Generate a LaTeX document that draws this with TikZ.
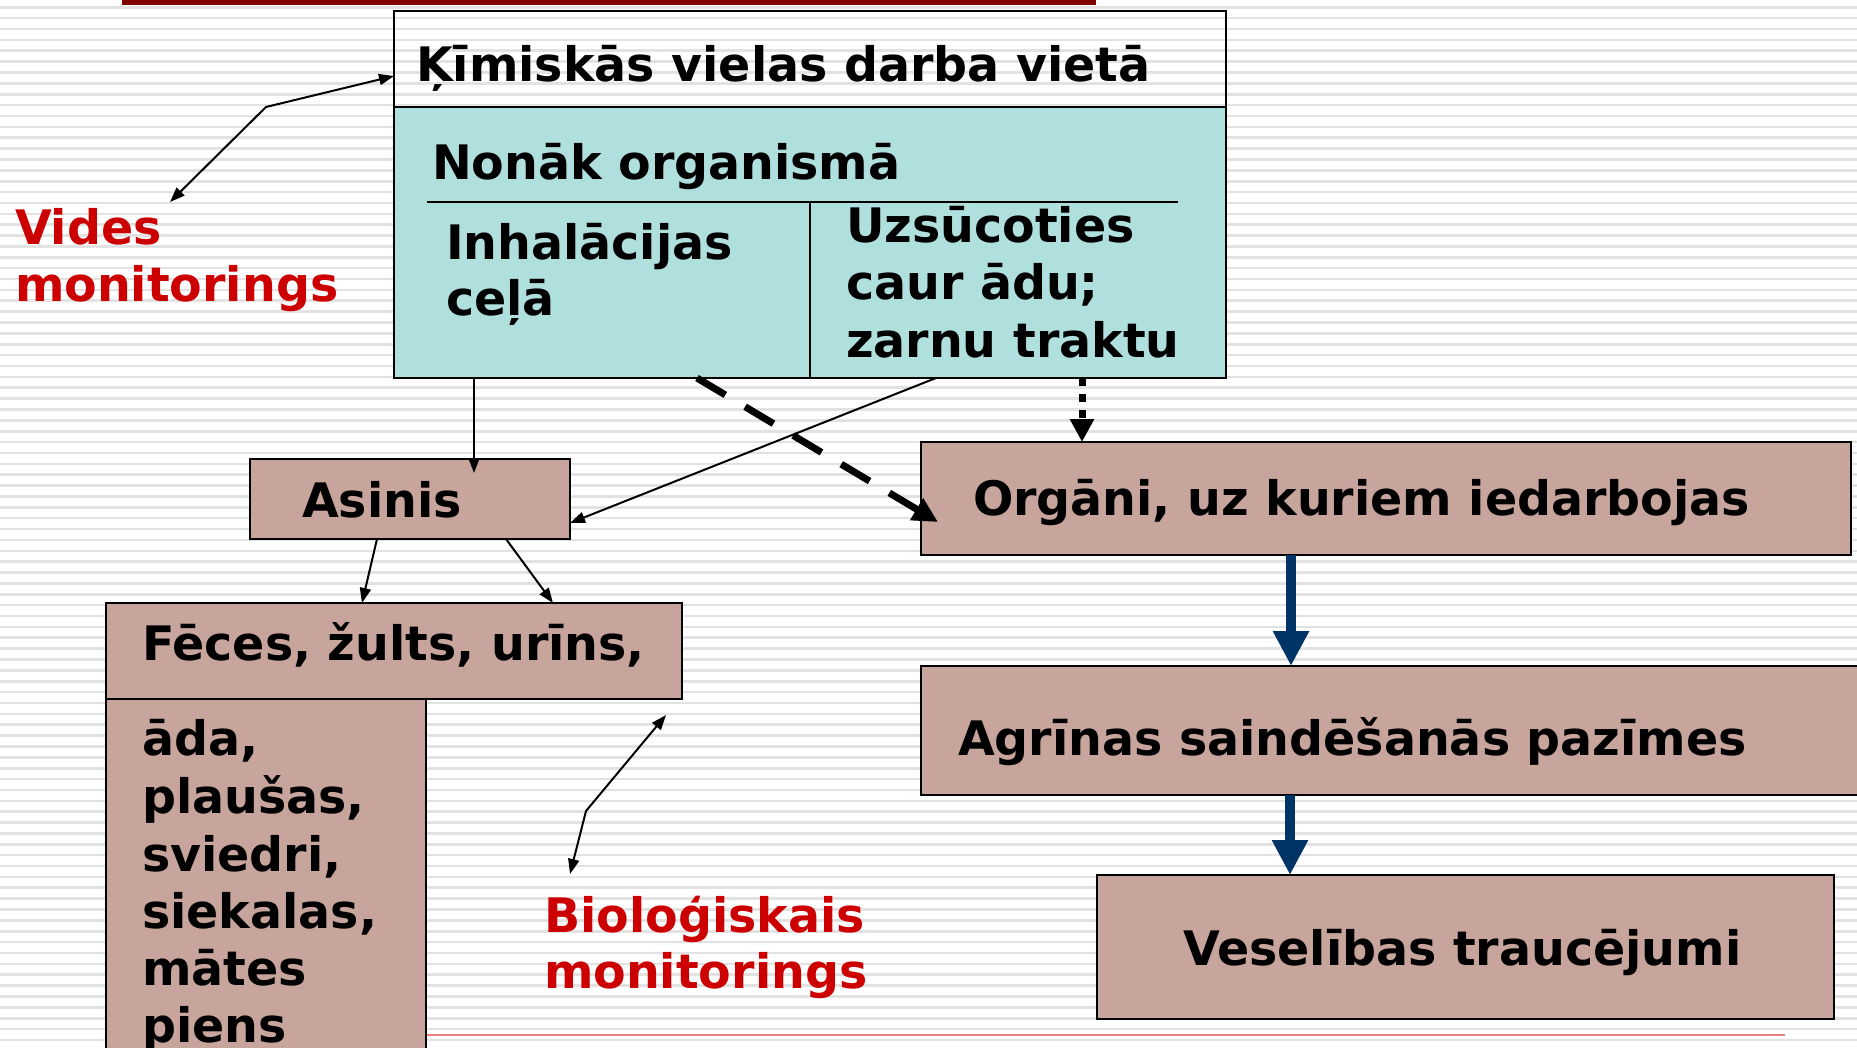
\documentclass[tikz,border=0pt]{standalone}
\usepackage{fontspec}
\setmainfont{DejaVu Sans}
\usetikzlibrary{arrows.meta}
\definecolor{tealfill}{RGB}{176,224,222}
\definecolor{rosefill}{RGB}{199,164,156}
\definecolor{navyarrow}{RGB}{0,51,102}
\definecolor{redtext}{RGB}{204,0,0}
\definecolor{topbar}{RGB}{128,0,0}
\definecolor{pinkline}{RGB}{232,128,128}
\definecolor{stripegray}{RGB}{226,226,226}
\begin{document}
\begin{tikzpicture}[x=1pt,y=-1pt,
  boxst/.style={draw=black, line width=2.7pt, anchor=north west, inner sep=0pt, outer sep=0pt},
  txt/.style={anchor=base west, inner sep=0pt, outer sep=0pt, font=\bfseries\fontsize{47.5}{57.5}\selectfont, text=black},
  rtxt/.style={txt, text=redtext},
  thinarrow/.style={line width=2pt, draw=black, -{Triangle[length=15pt,width=11pt]}},
  botharrow/.style={line width=2pt, draw=black, {Triangle[length=15pt,width=11pt]}-{Triangle[length=15pt,width=11pt]}},
  dasharrow/.style={line width=7pt, draw=black, dash pattern=on 33pt off 23pt, -{Triangle[length=25pt,width=24pt]}},
  dotarrow/.style={line width=7pt, draw=black, dash pattern=on 8pt off 8pt, -{Triangle[length=23pt,width=23pt]}},
  bluearrow/.style={line width=10pt, draw=navyarrow, -{Triangle[length=35pt,width=34pt]}}
]
\useasboundingbox (0,0) rectangle (1857,1048);
\begin{scope}
\clip (0,0) rectangle (1857,1048);
% background stripes
\fill[white] (0,0) rectangle (1857,1048);
\foreach \i in {0,...,96} {
  \draw[stripegray, line width=2.6pt] (0,{7.3+\i*10.87}) -- (1857,{7.3+\i*10.87});
}
% decorative lines
\fill[topbar] (122,0) rectangle (1096,5);
\draw[pinkline, line width=2.5pt] (106,1035) -- (1785,1035);

% top box
\node[boxst, minimum width=832pt, minimum height=367pt] (topbox) at (394,11) {};
\node[boxst, fill=tealfill, minimum width=832pt, minimum height=271pt] (tealbox) at (394,107) {};
\draw[line width=2.2pt] (427,202) -- (1178,202);
\draw[line width=2.2pt] (810,202) -- (810,378);
\node[txt] (kim) at (416,82) {Ķīmiskās vielas darba vietā};
\node[txt] (nonak) at (432,180) {Nonāk organismā};
\node[txt] (inh1) at (446,260) {Inhalācijas};
\node[txt] (inh2) at (446,316) {ceļā};
\node[txt] (uzs1) at (846,243) {Uzsūcoties};
\node[txt] (uzs2) at (846,300) {caur ādu;};
\node[txt] (uzs3) at (846,357) {zarnu traktu};

% left boxes
\node[boxst, fill=rosefill, minimum width=320pt, minimum height=80pt] (asinis) at (250,459) {};
\node[txt] (asinist) at (302,517) {Asinis};
\node[boxst, fill=rosefill, minimum width=576pt, minimum height=96pt] (feces) at (106,603) {};
\node[txt] (fecest) at (142,660) {Fēces, žults, urīns,};
\node[boxst, fill=rosefill, minimum width=320pt, minimum height=380pt] (ada) at (106,699) {};
\node[txt] (ada1) at (142,755) {āda,};
\node[txt] (ada2) at (142,813) {plaušas,};
\node[txt] (ada3) at (142,871) {sviedri,};
\node[txt] (ada4) at (142,928) {siekalas,};
\node[txt] (ada5) at (142,985) {mātes};
\node[txt] (ada6) at (142,1042) {piens};

% right boxes
\node[boxst, fill=rosefill, minimum width=930pt, minimum height=113pt] (org) at (921,442) {};
\node[txt] (orgt) at (973,515) {Orgāni, uz kuriem iedarbojas};
\node[boxst, fill=rosefill, minimum width=960pt, minimum height=129pt] (agr) at (921,666) {};
\node[txt] (agrt) at (958,755) {Agrīnas saindēšanās pazīmes};
\node[boxst, fill=rosefill, minimum width=737pt, minimum height=144pt] (ves) at (1097,875) {};
\node[txt] (vest) at (1183,965) {Veselības traucējumi};

% red labels
\node[rtxt] (vides1) at (15,245) {Vides};
\node[rtxt] (vides2) at (15,302) {monitorings};
\node[rtxt] (bio1) at (544,932) {Bioloģiskais};
\node[rtxt] (bio2) at (544,988) {monitorings};

% connector end points
\coordinate (vA) at (170,202);
\coordinate (vB) at (266,107);
\coordinate (vC) at (394,76);
\coordinate (bA) at (666,715);
\coordinate (bB) at (586,811);
\coordinate (bC) at (570,874);
\coordinate (s1) at (474,378);
\coordinate (e1) at (474,473);
\coordinate (s2) at (936,378);
\coordinate (e2) at (570,523);
\coordinate (s3) at (697,378);
\coordinate (e3) at (938,522);
\coordinate (s4) at (1082,378);
\coordinate (e4) at (1082,442);
\coordinate (s5) at (377,539);
\coordinate (e5) at (362,603);
\coordinate (s6) at (506,539);
\coordinate (e6) at (553,603);
\coordinate (s7) at (1291,555);
\coordinate (e7) at (1291,666);
\coordinate (s8) at (1290,795);
\coordinate (e8) at (1290,875);

% connectors
\draw[botharrow] (vA) -- (vB) -- (vC);
\draw[botharrow] (bA) -- (bB) -- (bC);
\draw[thinarrow] (s1) -- (e1);
\draw[thinarrow] (s2) -- (e2);
\draw[dasharrow] (s3) -- (e3);
\draw[dotarrow] (s4) -- (e4);
\draw[thinarrow] (s5) -- (e5);
\draw[thinarrow] (s6) -- (e6);
\draw[bluearrow] (s7) -- (e7);
\draw[bluearrow] (s8) -- (e8);
\end{scope}
\end{tikzpicture}
\end{document}
